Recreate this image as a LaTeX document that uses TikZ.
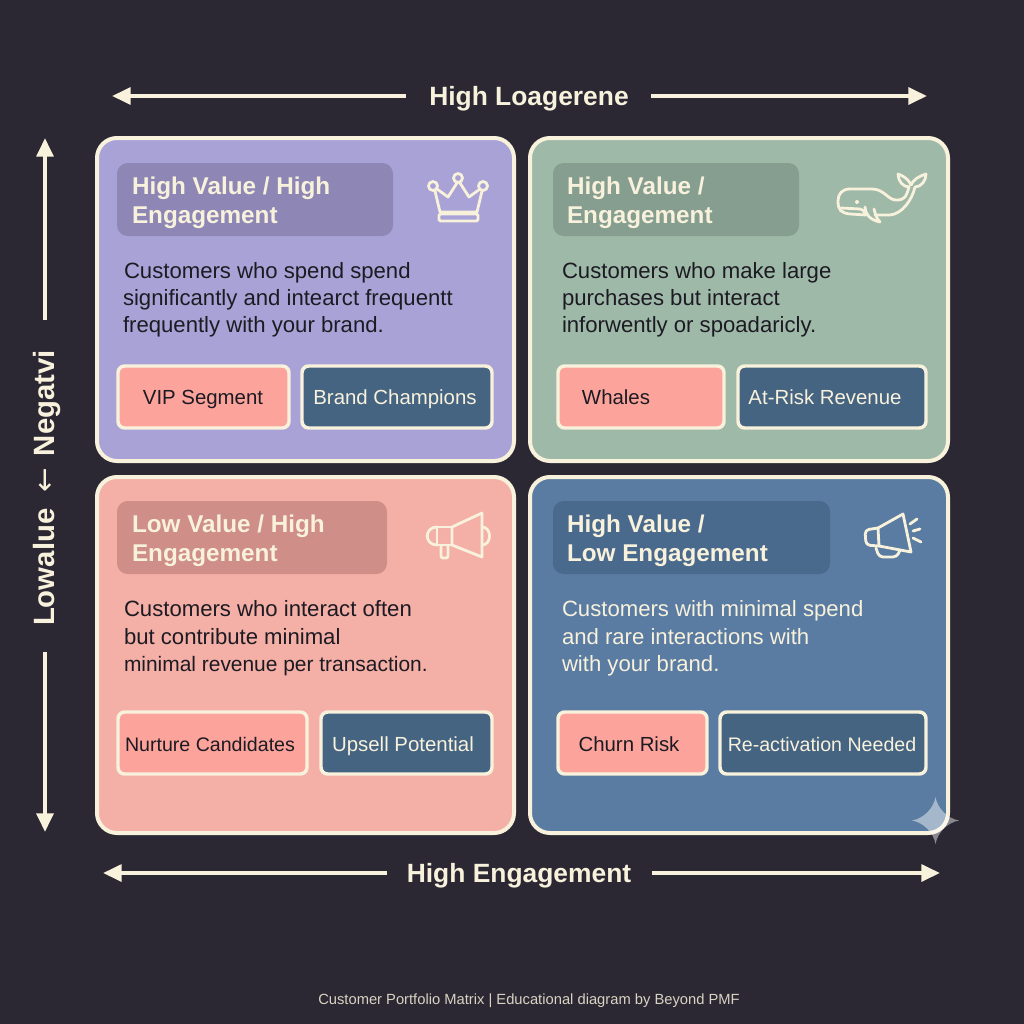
\documentclass[tikz,border=0pt]{standalone}
\usepackage{fontspec}
\setmainfont{Liberation Sans}
\newfontfamily\arrowfont{DejaVu Sans}
\usetikzlibrary{arrows.meta,calc}
\definecolor{bgc}{HTML}{2B2833}
\definecolor{cream}{HTML}{F8F1DC}
\definecolor{qpurple}{HTML}{A9A2D6}
\definecolor{qgreen}{HTML}{9FB9A9}
\definecolor{qpink}{HTML}{F4AFA6}
\definecolor{qblue}{HTML}{5A7CA2}
\definecolor{tpurple}{HTML}{8E87B6}
\definecolor{tgreen}{HTML}{869E90}
\definecolor{tpink}{HTML}{CF8E88}
\definecolor{tblue}{HTML}{496A8C}
\definecolor{chipp}{HTML}{FCA49C}
\definecolor{chipb}{HTML}{456482}
\definecolor{ink}{HTML}{1C1A22}
\tikzset{
  base/.style={inner sep=0pt,outer sep=0pt},
  quad/.style={base,draw=cream,line width=3pt,rounded corners=15pt},
  titlebox/.style={base,rounded corners=8pt},
  chip/.style={base,draw=cream,line width=2.6pt,rounded corners=5pt},
  chippink/.style={chip,fill=chipp},
  chipblue/.style={chip,fill=chipb},
  titletext/.style={base,anchor=base west,font=\fontsize{18.2}{18.2}\selectfont\bfseries,text=cream},
  bodytext/.style={base,anchor=base west,font=\fontsize{16.6}{16.6}\selectfont,text=ink},
  bodylight/.style={bodytext,text=cream},
  chiptext/.style={base,anchor=base,font=\fontsize{15.3}{15.3}\selectfont},
  chipsmall/.style={chiptext,font=\fontsize{14.7}{14.7}\selectfont},
  axislabel/.style={base,anchor=base,font=\fontsize{19.8}{19.8}\selectfont\bfseries,text=cream},
  sidelabel/.style={axislabel,font=\fontsize{22}{22}\selectfont\bfseries},
  axisline/.style={draw=cream,line width=3pt,-{Triangle[length=14pt,width=12.5pt]}},
  icon/.style={draw=cream,line width=2.1pt,line join=round,line cap=round},
}
\newcommand{\pbox}[6]{\node[#2,anchor=north west,minimum width={(#5-#3)*0.75pt},minimum height={(#6-#4)*0.75pt}] (#1) at (#3,#4) {};}
\begin{document}
\begin{tikzpicture}[x=0.75pt,y=-0.75pt]
\fill[bgc] (0,0) rectangle (1024,1024);
\useasboundingbox (0,0) rectangle (1024,1024);
% quadrants
\pbox{qa}{quad,fill=qpurple}{97}{138}{514}{461}
\pbox{qb}{quad,fill=qgreen}{530}{138}{948}{461}
\pbox{qc}{quad,fill=qpink}{97}{477}{514}{833}
\pbox{qd}{quad,fill=qblue}{530}{477}{948}{833}
% title boxes
\pbox{ta}{titlebox,fill=tpurple}{117}{163}{393}{236}
\pbox{tb}{titlebox,fill=tgreen}{553}{163}{799}{236}
\pbox{tc}{titlebox,fill=tpink}{117}{501}{387}{574}
\pbox{td}{titlebox,fill=tblue}{553}{501}{830}{574}
\node[titletext] (ta1) at (132,194) {High Value / High};
\node[titletext] (ta2) at (132,223) {Engagement};
\node[titletext] (tb1) at (567,194) {High Value /};
\node[titletext] (tb2) at (567,223) {Engagement};
\node[titletext] (tc1) at (132,532) {Low Value / High};
\node[titletext] (tc2) at (132,561) {Engagement};
\node[titletext] (td1) at (567,532) {High Value /};
\node[titletext] (td2) at (567,561) {Low Engagement};
% body text
\node[bodytext] (ba1) at (124,278) {Customers who spend spend};
\node[bodytext] (ba2) at (123,305) {significantly and intearct frequentt};
\node[bodytext] (ba3) at (123,332) {frequently with your brand.};
\node[bodytext] (bb1) at (562,278) {Customers who make large};
\node[bodytext] (bb2) at (562,305) {purchases but interact};
\node[bodytext] (bb3) at (562,332) {inforwently or spoadaricly.};
\node[bodytext] (bc1) at (124,616) {Customers who interact often};
\node[bodytext] (bc2) at (124,644) {but contribute minimal};
\node[bodytext,font=\fontsize{15.7}{15.7}\selectfont] (bc3) at (124,671) {minimal revenue per transaction.};
\node[bodylight] (bd1) at (562,616) {Customers with minimal spend};
\node[bodylight] (bd2) at (562,644) {and rare interactions with};
\node[bodylight] (bd3) at (562,671) {with your brand.};
% chips
\pbox{ca1}{chippink}{118}{366}{289}{428}
\pbox{ca2}{chipblue}{302}{366}{492}{428}
\pbox{cb1}{chippink}{558}{366}{724}{428}
\pbox{cb2}{chipblue}{738}{366}{926}{428}
\pbox{cc1}{chippink}{118}{712}{307}{774}
\pbox{cc2}{chipblue}{321}{712}{492}{774}
\pbox{cd1}{chippink}{558}{712}{707}{774}
\pbox{cd2}{chipblue}{720}{712}{926}{774}
\node[chiptext,text=ink] (la1) at (203,404) {VIP Segment};
\node[chiptext,text=cream] (la2) at (395,404) {Brand Champions};
\node[chiptext,text=ink] (lb1) at (616,404) {Whales};
\node[chiptext,text=cream] (lb2) at (825,404) {At-Risk Revenue};
\node[chipsmall,text=ink] (lc1) at (210,751) {Nurture Candidates};
\node[chiptext,text=cream] (lc2) at (403,751) {Upsell Potential};
\node[chiptext,text=ink] (ld1) at (629,751) {Churn Risk};
\node[chipsmall,text=cream] (ld2) at (822,751) {Re-activation Needed};
% axes
\node[axislabel] (top) at (529,105) {High Loagerene};
\coordinate (topl) at (112,96);
\coordinate (topr) at (927,96);
\draw[axisline] (406,96) -- (topl);
\draw[axisline] (651,96) -- (topr);
\node[axislabel] (bot) at (519,882) {High Engagement};
\coordinate (botl) at (103,873);
\coordinate (botr) at (940,873);
\draw[axisline] (387,873) -- (botl);
\draw[axisline] (652,873) -- (botr);
\node[sidelabel,rotate=90] (side) at (54,488) {Lowalue\hspace{12pt}{\arrowfont\mdseries ←}\hspace{9pt}Negatvi};
\coordinate (sidet) at (45,138);
\coordinate (sideb) at (45,832);
\draw[axisline] (45,320) -- (sidet);
\draw[axisline] (45,652) -- (sideb);
% crown
\draw[icon] (433,186) circle (4.5) (458,178) circle (4.5) (483,186) circle (4.5);
\draw[icon] (435,191) -- (440,212) -- (477,212) -- (482,191);
\draw[icon] (437,189) -- (448,197) -- (457,183);
\draw[icon] (460,183) -- (469,197) -- (480,189);
\draw[icon,rounded corners=1pt] (439,214) rectangle (478,221);
% whale
\draw[icon] (909,187) .. controls (906,198) and (904,200) .. (896,200) .. controls (888,200) and (884,189) .. (872,189) -- (850,189) .. controls (842,189) and (838,194) .. (838,201) .. controls (838,210) and (841,213) .. (850,214) -- (866,215);
\draw[icon] (875,215) -- (890,215) .. controls (902,214) and (912,200) .. (915,187);
\draw[icon] (911,185) .. controls (909,180) and (904,176) .. (898,174) .. controls (898,181) and (903,187) .. (909,187);
\draw[icon] (911,185) .. controls (913,180) and (919,176) .. (926,174) .. controls (926,181) and (921,187) .. (915,187);
\draw[icon] (841,208) -- (860,209) .. controls (863,209) and (864,211) .. (865,214);
\draw[icon] (865,207) .. controls (865,214) and (870,220) .. (880,222) .. controls (876,218) and (875,213) .. (874,209);
\fill[cream] (857,202) circle (2);
% megaphone 1
\draw[icon] (452,527) -- (482,513) -- (482,557) -- (452,545) -- cycle;
\draw[icon] (437,527) -- (452,527) (437,545) -- (452,545) (437,527) -- (437,545);
\draw[icon] (437,527) .. controls (424,527) and (424,545) .. (437,545);
\draw[icon] (482,527) .. controls (492,527) and (492,545) .. (482,545);
\draw[icon,rounded corners=1.5pt] (441,545) -- (441,558) -- (448,558) -- (448,545);
% megaphone 2
\draw[icon] (878,528) -- (903,514) -- (911,552) -- (879,546) -- cycle;
\draw[icon,rounded corners=3pt] (878,528) -- (865,530) -- (866,545) -- (879,546);
\draw[icon,rounded corners=3pt] (876,548) -- (879,557) -- (897,557) -- (900,550);
\draw[icon] (910,524) -- (917,519) (913,531) -- (920,529) (913,538) -- (921,542);
% sparkle
\fill[white,opacity=.45] (935.5,797) .. controls (937.5,808.5) and (947.5,818.5) .. (959,820.5) .. controls (947.5,822.5) and (937.5,832.5) .. (935.5,844) .. controls (933.5,832.5) and (923.5,822.5) .. (912,820.5) .. controls (923.5,818.5) and (933.5,808.5) .. (935.5,797) -- cycle;
% footer
\node[base,anchor=base,font=\fontsize{11.05}{11.05}\selectfont,text=cream!85!bgc] (foot) at (529,1004) {Customer Portfolio Matrix | Educational diagram by Beyond PMF};
\end{tikzpicture}
\end{document}
